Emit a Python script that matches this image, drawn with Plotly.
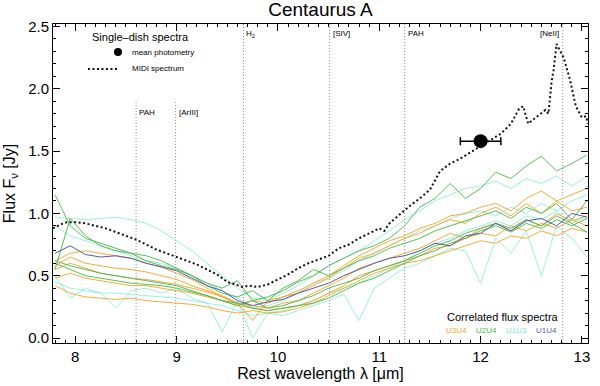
import plotly.graph_objects as go

# MIDI total (single-dish) spectrum
midi_wl = [7.78, 7.85, 7.92, 8.00, 8.10, 8.20, 8.30, 8.40, 8.50, 8.60, 8.70, 8.80, 8.90, 9.00,
           9.10, 9.20, 9.30, 9.40, 9.50, 9.58, 9.65, 9.72, 9.80, 9.90, 10.00, 10.10, 10.20, 10.30,
           10.40, 10.50, 10.60, 10.70, 10.80, 10.90, 11.00, 11.05, 11.10, 11.20, 11.30, 11.40, 11.50,
           11.60, 11.70, 11.80, 11.90, 12.00, 12.10, 12.20, 12.30, 12.38, 12.42, 12.47, 12.53, 12.60,
           12.64, 12.67, 12.70, 12.72, 12.75, 12.78, 12.82, 12.88, 12.94, 13.00, 13.04, 13.06]
midi_flux = [0.88, 0.91, 0.93, 0.93, 0.92, 0.90, 0.88, 0.85, 0.82, 0.79, 0.75, 0.71, 0.68, 0.65,
             0.62, 0.59, 0.55, 0.51, 0.45, 0.43, 0.41, 0.42, 0.41, 0.43, 0.47, 0.51, 0.56, 0.60,
             0.63, 0.66, 0.72, 0.75, 0.80, 0.84, 0.88, 0.86, 0.92, 0.99, 1.06, 1.12, 1.19,
             1.34, 1.40, 1.44, 1.49, 1.54, 1.59, 1.64, 1.72, 1.84, 1.86, 1.72, 1.76, 1.80,
             1.83, 1.80, 2.05, 2.15, 2.36, 2.31, 2.25, 2.08, 1.86, 1.77, 1.78, 1.72]

# nuclear photometry point
phot_wl = [12.0]
phot_flux = [1.58]
phot_wl_err = [0.2]

# correlated flux spectra, common wavelength grid
corr_wl = [7.80, 7.95, 8.10, 8.25, 8.40, 8.55, 8.70, 8.85, 9.00, 9.15, 9.30, 9.45,
           9.60, 9.75, 9.90, 10.05, 10.20, 10.35, 10.50, 10.65, 10.80, 10.95, 11.10, 11.25,
           11.40, 11.55, 11.70, 11.85, 12.00, 12.15, 12.30, 12.45, 12.60, 12.75, 12.90, 13.05]

u3u4 = [
    [0.62, 0.68, 0.70, 0.68, 0.66, 0.64, 0.60, 0.57, 0.52, 0.47, 0.40, 0.33, 0.27, 0.30, 0.28, 0.33, 0.38, 0.44,
     0.50, 0.58, 0.66, 0.72, 0.78, 0.82, 0.88, 0.92, 0.98, 1.00, 1.05, 1.08, 1.02, 1.12, 1.18, 1.10, 1.15, 1.20],
    [0.58, 0.65, 0.60, 0.58, 0.56, 0.55, 0.53, 0.50, 0.47, 0.42, 0.38, 0.34, 0.28, 0.14, 0.30, 0.33, 0.36, 0.42,
     0.48, 0.56, 0.64, 0.68, 0.74, 0.80, 0.84, 0.90, 0.95, 0.92, 1.00, 1.05, 0.98, 1.08, 1.00, 1.10, 1.02, 1.05],
    [0.55, 0.60, 0.56, 0.52, 0.50, 0.48, 0.47, 0.45, 0.43, 0.40, 0.37, 0.33, 0.28, 0.26, 0.24, 0.28, 0.30, 0.36,
     0.42, 0.48, 0.56, 0.60, 0.64, 0.68, 0.72, 0.78, 0.84, 0.80, 0.88, 0.92, 0.86, 0.95, 0.90, 1.00, 0.94, 0.98],
    [0.48, 0.52, 0.48, 0.46, 0.44, 0.42, 0.42, 0.40, 0.38, 0.36, 0.33, 0.30, 0.26, 0.24, 0.22, 0.24, 0.26, 0.30,
     0.36, 0.42, 0.50, 0.54, 0.58, 0.62, 0.66, 0.72, 0.74, 0.80, 0.84, 0.82, 0.90, 0.86, 0.92, 0.88, 0.95, 0.90],
    [0.42, 0.36, 0.33, 0.32, 0.31, 0.32, 0.30, 0.29, 0.28, 0.27, 0.25, 0.22, 0.20, 0.22, 0.20, 0.21, 0.24, 0.28,
     0.34, 0.40, 0.46, 0.52, 0.56, 0.60, 0.62, 0.66, 0.70, 0.74, 0.78, 0.76, 0.82, 0.80, 0.86, 0.82, 0.88, 0.85],
]
u2u4 = [
    [1.15, 0.90, 0.80, 0.76, 0.72, 0.68, 0.66, 0.62, 0.56, 0.50, 0.44, 0.40, 0.46, 0.30, 0.33, 0.38, 0.45, 0.50,
     0.58, 0.64, 0.70, 0.74, 0.80, 0.90, 1.05, 1.12, 1.24, 1.12, 1.20, 1.33, 1.28, 1.38, 1.46, 1.34, 1.40, 1.47],
    [0.55, 0.96, 0.82, 0.74, 0.70, 0.68, 0.62, 0.58, 0.55, 0.50, 0.42, 0.36, 0.33, 0.38, 0.30, 0.40, 0.46, 0.55,
     0.50, 0.56, 0.62, 0.66, 0.72, 0.76, 0.80, 0.86, 0.90, 0.94, 0.98, 1.02, 0.96, 1.05, 1.00, 1.08, 0.95, 1.10],
    [0.62, 0.58, 0.55, 0.52, 0.50, 0.48, 0.46, 0.44, 0.42, 0.38, 0.34, 0.30, 0.26, 0.30, 0.24, 0.26, 0.30, 0.34,
     0.40, 0.44, 0.48, 0.54, 0.58, 0.62, 0.68, 0.74, 0.78, 0.84, 0.88, 0.92, 0.88, 0.95, 0.90, 0.98, 0.92, 0.85],
    [0.60, 0.55, 0.50, 0.48, 0.46, 0.44, 0.43, 0.42, 0.40, 0.37, 0.34, 0.30, 0.28, 0.24, 0.22, 0.24, 0.26, 0.28,
     0.32, 0.38, 0.44, 0.48, 0.54, 0.60, 0.66, 0.70, 0.76, 0.80, 0.86, 0.90, 0.85, 0.92, 0.88, 0.95, 0.90, 0.96],
]
u1u3 = [
    [0.97, 0.96, 0.95, 0.96, 0.97, 0.95, 0.92, 0.86, 0.78, 0.70, 0.60, 0.50, 0.40, 0.32, 0.30, 0.36, 0.42, 0.50,
     0.58, 0.64, 0.70, 0.78, 0.86, 0.95, 1.02, 1.10, 1.15, 1.20, 1.22, 1.26, 1.20, 1.28, 1.24, 1.30, 1.22, 1.30],
    [0.90, 0.82, 0.78, 0.74, 0.70, 0.66, 0.62, 0.60, 0.56, 0.50, 0.44, 0.38, 0.32, 0.24, 0.26, 0.30, 0.36, 0.44,
     0.48, 0.54, 0.62, 0.68, 0.74, 0.80, 0.86, 0.90, 0.96, 1.00, 1.02, 0.98, 1.05, 1.00, 1.08, 1.02, 1.10, 1.15],
    [0.50, 0.32, 0.40, 0.36, 0.24, 0.38, 0.40, 0.36, 0.40, 0.32, 0.28, 0.05, 0.30, 0.00, 0.20, 0.18, 0.22, 0.26,
     0.30, 0.35, 0.14, 0.40, 0.48, 0.56, 0.60, 0.66, 0.72, 0.70, 0.44, 0.80, 0.68, 0.86, 0.50, 0.90, 0.80, 0.65],
    [0.45, 0.40, 0.38, 0.36, 0.36, 0.35, 0.34, 0.33, 0.32, 0.30, 0.28, 0.26, 0.22, 0.18, 0.20, 0.22, 0.26, 0.30,
     0.36, 0.40, 0.44, 0.50, 0.56, 0.62, 0.70, 0.76, 0.80, 0.86, 0.90, 0.94, 0.90, 0.98, 0.95, 1.02, 0.92, 0.98],
]
u1u4 = [
    [0.68, 0.74, 0.67, 0.65, 0.66, 0.64, 0.60, 0.57, 0.54, 0.48, 0.42, 0.38, 0.30, 0.26, 0.29, 0.31, 0.36, 0.40,
     0.44, 0.50, 0.55, 0.60, 0.64, 0.66, 0.70, 0.76, 0.74, 0.82, 0.84, 0.92, 0.86, 0.94, 0.96, 0.90, 1.00, 0.97],
]

baselines = ["U3U4", "U2U4", "U1U3", "U1U4"]
baseline_colors = {"U3U4": "#f2a428", "U2U4": "#48b848", "U1U3": "#78ecd4", "U1U4": "#5a5aa8"}
baseline_opacity = {"U3U4": 0.9, "U2U4": 0.9, "U1U3": 0.75, "U1U4": 1.0}
corr_spectra = {"U3U4": u3u4, "U2U4": u2u4, "U1U3": u1u3, "U1U4": u1u4}

# emission line markers
feat_wl = [8.60, 8.99, 9.66, 10.51, 11.25, 12.81]
feat_names = ["PAH", "[ArIII]", "H<sub>2</sub>", "[SIV]", "PAH", "[NeII]"]
feat_top = [1.90, 1.90, 2.52, 2.52, 2.52, 2.52]
feat_label_y = [1.81, 1.81, 2.44, 2.44, 2.44, 2.44]

font = "Liberation Sans, Arial, sans-serif"
fig = go.Figure()

# correlated flux spectra, cyan first so others sit on top
for bl in ["U1U3", "U3U4", "U2U4", "U1U4"]:
    for spec in corr_spectra[bl]:
        fig.add_trace(go.Scatter(
            x=corr_wl, y=spec, mode="lines",
            line=dict(color=baseline_colors[bl], width=1),
            opacity=baseline_opacity[bl],
            showlegend=False, hoverinfo="skip"))

fig.add_trace(go.Scatter(
    x=midi_wl, y=midi_flux, mode="lines", showlegend=False,
    line=dict(color="#111111", width=2, dash="2px,2.5px")))

fig.add_trace(go.Scatter(
    x=phot_wl, y=phot_flux, mode="markers", showlegend=False,
    marker=dict(color="black", size=14),
    error_x=dict(type="data", array=phot_wl_err, color="black", thickness=1.5, width=4)))

for wl, name, top, ly in zip(feat_wl, feat_names, feat_top, feat_label_y):
    fig.add_shape(type="line", x0=wl, x1=wl, y0=-0.04, y1=top,
                  line=dict(color="#8c8c8c", width=1, dash="1px,2px"), layer="below")
    left = name != "[NeII]"
    fig.add_annotation(x=wl, y=ly, text=name, showarrow=False, yanchor="middle",
                       xanchor="left" if left else "right", xshift=1 if left else -2,
                       font=dict(size=8, color="black", family=font))


def note(x, y, text, size, color="black", xanchor="left"):
    fig.add_annotation(xref="paper", yref="paper", x=x, y=y, text=text, showarrow=False,
                       xanchor=xanchor, yanchor="middle",
                       font=dict(size=size, color=color, family=font))


# single-dish legend (upper left)
note(0.069, 0.959, "Single–dish spectra", 11)
fig.add_shape(type="circle", xref="paper", yref="paper", xsizemode="pixel", ysizemode="pixel",
              xanchor=0.1215, yanchor=0.912, x0=-4, x1=4, y0=-4, y1=4,
              fillcolor="black", line=dict(color="black", width=0))
note(0.144, 0.912, "mean photometry", 8)
fig.add_shape(type="line", xref="paper", yref="paper", x0=0.0654, x1=0.1215, y0=0.859, y1=0.859,
              line=dict(color="#111111", width=2, dash="2px,2.5px"))
note(0.144, 0.859, "MIDI spectrum", 8)

# correlated flux legend (lower right)
note(0.841, 0.0815, "Correlated flux spectra", 11, xanchor="center")
for bl, xp in zip(baselines, [0.755, 0.810, 0.867, 0.923]):
    note(xp, 0.038, bl, 8, color=baseline_colors[bl], xanchor="center")

axis_common = dict(
    showline=True, linecolor="black", linewidth=1, mirror="ticks",
    ticks="inside", ticklen=7, tickcolor="black", showgrid=False, zeroline=False,
    automargin=False,
    tickfont=dict(size=15, color="black", family=font),
)
fig.update_xaxes(range=[7.78, 13.06], dtick=1, tick0=8,
                 minor=dict(ticks="inside", dtick=0.1, ticklen=3, tickcolor="black"),
                 title=dict(text="Rest wavelength λ [μm]", font=dict(size=16, color="black", family=font),
                            standoff=2),
                 **axis_common)
fig.update_yaxes(range=[-0.04, 2.52], dtick=0.5, tick0=0, tickformat=".1f",
                 minor=dict(ticks="inside", dtick=0.1, ticklen=3, tickcolor="black"),
                 title=dict(text="Flux F<sub>ν</sub> [Jy]", font=dict(size=16, color="black", family=font),
                            standoff=8),
                 **axis_common)

fig.update_layout(
    width=600, height=386,
    margin=dict(l=53, r=12, t=24, b=43),
    paper_bgcolor="white", plot_bgcolor="white", showlegend=False,
    title=dict(text="Centaurus A", x=0.5, xref="paper", y=0.975, yref="container", yanchor="middle",
               font=dict(size=19, color="black", family=font)),
)

fig.write_html("out.html", config={"displayModeBar": False},
               post_script="document.body.style.margin = '0';")
